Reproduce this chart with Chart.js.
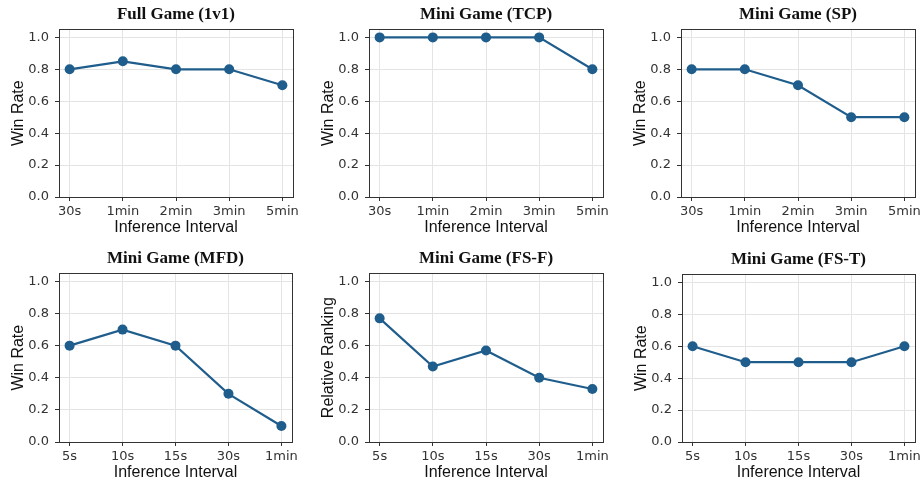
<!DOCTYPE html>
<html>
<head>
<meta charset="utf-8">
<script src="https://cdn.jsdelivr.net/npm/chart.js@4"></script>
<style>
  body { margin: 0; background: #fff; width: 921px; height: 485px; position: relative; overflow: hidden; }
  canvas { position: absolute; }
</style>
</head>
<body>
<script>
// tick labels
var labelsLong = ['30s', '1min', '2min', '3min', '5min'];
var labelsShort = ['5s', '10s', '15s', '30s', '1min'];
var yTicks = [0, 0.2, 0.4, 0.6, 0.8, 1.0];

// series values
var fullGame = [0.8, 0.85, 0.8, 0.8, 0.7];
var tcp = [1.0, 1.0, 1.0, 1.0, 0.8];
var sp = [0.8, 0.8, 0.7, 0.5, 0.5];
var mfd = [0.6, 0.7, 0.6, 0.3, 0.1];
var fsf = [0.77, 0.47, 0.57, 0.40, 0.33];
var fst = [0.6, 0.5, 0.5, 0.5, 0.6];

var lineColor = '#1f5d8c';
var xTitle = 'Inference Interval';

// plot rectangles (left, top, right, bottom)
var panels = [
	{ title: 'Full Game (1v1)', labels: labelsLong, values: fullGame, yLabel: 'Win Rate', rect: [59, 29, 293, 197] },
	{ title: 'Mini Game (TCP)', labels: labelsLong, values: tcp, yLabel: 'Win Rate', rect: [369, 29, 603, 197] },
	{ title: 'Mini Game (SP)', labels: labelsLong, values: sp, yLabel: 'Win Rate', rect: [681, 29, 915, 197] },
	{ title: 'Mini Game (MFD)', labels: labelsShort, values: mfd, yLabel: 'Win Rate', rect: [59, 273, 292, 442] },
	{ title: 'Mini Game (FS-F)', labels: labelsShort, values: fsf, yLabel: 'Relative Ranking', rect: [369, 273, 603, 442] },
	{ title: 'Mini Game (FS-T)', labels: labelsShort, values: fst, yLabel: 'Win Rate', rect: [682, 274, 915, 442] }
];

var LEFT = 60, TOP = 29, BOTTOM = 43, RIGHT = 6;

var frame = {
	id: 'frame',
	afterDraw: function (chart) {
		var a = chart.chartArea;
		var ctx = chart.ctx;
		ctx.save();
		ctx.strokeStyle = '#333';
		ctx.lineWidth = 1;
		ctx.strokeRect(Math.round(a.left) + 0.5, Math.round(a.top) + 0.5, Math.round(a.right - a.left), Math.round(a.bottom - a.top));
		ctx.restore();
	}
};

panels.forEach(function (p) {
	var r = p.rect;
	var canvas = document.createElement('canvas');
	var w = r[2] - r[0] + LEFT + RIGHT;
	var h = r[3] - r[1] + TOP + BOTTOM;
	canvas.width = w;
	canvas.height = h;
	canvas.style.left = (r[0] - LEFT) + 'px';
	canvas.style.top = (r[1] - TOP) + 'px';
	canvas.style.width = w + 'px';
	canvas.style.height = h + 'px';
	document.body.appendChild(canvas);

	var pts = p.values.map(function (v, i) { return { x: i, y: v }; });
	var labels = p.labels;

	new Chart(canvas.getContext('2d'), {
		type: 'line',
		data: {
			datasets: [{
				data: pts,
				borderColor: lineColor,
				backgroundColor: lineColor,
				borderWidth: 2.2,
				pointRadius: 5,
				pointBorderWidth: 0,
				pointBackgroundColor: lineColor,
				tension: 0
			}]
		},
		options: {
			responsive: false,
			animation: false,
			devicePixelRatio: 1,
			layout: { autoPadding: false, padding: { left: 0, right: RIGHT, top: 0, bottom: 0 } },
			scales: {
				x: {
					type: 'linear',
					min: -0.2,
					max: 4.2,
					afterBuildTicks: function (axis) {
						axis.ticks = labels.map(function (l, i) { return { value: i }; });
					},
					afterFit: function (axis) {
						axis.height = BOTTOM;
						axis.paddingLeft = 0;
						axis.paddingRight = 0;
					},
					ticks: {
						autoSkip: false,
						maxRotation: 0,
						padding: 3,
						color: '#333',
						font: { family: 'DejaVu Sans', size: 13 },
						callback: function (v) { return labels[v]; }
					},
					grid: { color: '#e4e4e4', tickColor: '#333', tickLength: 4 },
					border: { color: '#333' },
					title: {
						display: true,
						text: xTitle,
						color: '#111',
						font: { family: 'Liberation Sans', size: 16 },
						padding: { top: 0, bottom: 2.5 }
					}
				},
				y: {
					min: 0,
					max: 1.05,
					afterBuildTicks: function (axis) {
						axis.ticks = yTicks.map(function (v) { return { value: v }; });
					},
					afterFit: function (axis) {
						axis.width = LEFT;
						axis.paddingTop = 0;
						axis.paddingBottom = 0;
					},
					ticks: {
						padding: 6,
						color: '#333',
						font: { family: 'DejaVu Sans', size: 13 },
						callback: function (v) { return v.toFixed(1); }
					},
					grid: { color: '#e4e4e4', tickColor: '#333', tickLength: 4 },
					border: { color: '#333' },
					title: {
						display: true,
						text: p.yLabel,
						color: '#111',
						font: { family: 'Liberation Sans', size: 16 },
						padding: { top: 10, bottom: 0 }
					}
				}
			},
			plugins: {
				legend: { display: false },
				tooltip: { enabled: false },
				title: {
					display: true,
					text: p.title,
					fullSize: false,
					color: '#111',
					font: { family: 'Liberation Serif', size: 17, weight: 'bold' },
					padding: { top: 4, bottom: 5 }
				}
			}
		},
		plugins: [frame]
	});
});
</script>
</body>
</html>
